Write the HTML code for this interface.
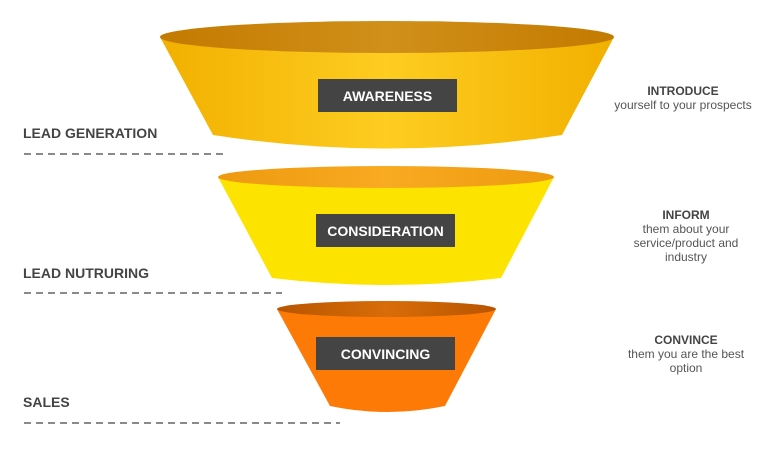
<!DOCTYPE html>
<html><head><meta charset="utf-8"><style>
html,body{margin:0;padding:0;background:#fff;width:780px;height:451px;overflow:hidden}
svg{display:block}
text{font-family:"Liberation Sans",sans-serif}
</style></head><body>
<svg width="780" height="451" viewBox="0 0 780 451" xmlns="http://www.w3.org/2000/svg">
<defs>
<linearGradient id="b1" x1="0" x2="1"><stop offset="0" stop-color="#f2b000"/><stop offset="0.5" stop-color="#fdcd20"/><stop offset="1" stop-color="#f2b000"/></linearGradient>
<linearGradient id="t1" x1="0" x2="1"><stop offset="0" stop-color="#c47a00"/><stop offset="0.5" stop-color="#d0901a"/><stop offset="1" stop-color="#c47a00"/></linearGradient>
<linearGradient id="t2" x1="0" x2="1"><stop offset="0" stop-color="#ee9a10"/><stop offset="0.5" stop-color="#f8aa20"/><stop offset="1" stop-color="#ee9a10"/></linearGradient>
<linearGradient id="t3" x1="0" x2="1"><stop offset="0" stop-color="#b85500"/><stop offset="0.5" stop-color="#d86c08"/><stop offset="1" stop-color="#b85500"/></linearGradient>
</defs>
<path d="M160,37 L213,135 Q387,162 562,135 L614,37 Z" fill="url(#b1)"/>
<ellipse cx="387" cy="37" rx="227" ry="16" fill="url(#t1)"/>
<rect x="318" y="79" width="139" height="33" fill="#444"/>
<text x="387.5" y="101" text-anchor="middle" fill="#fff" font-size="14" font-weight="bold">AWARENESS</text>
<path d="M218,177 L272,278 Q386,292 501,278 L554,177 Z" fill="#fde400"/>
<ellipse cx="386" cy="177" rx="168" ry="11" fill="url(#t2)"/>
<rect x="316" y="214" width="139" height="33" fill="#444"/>
<text x="385.5" y="236" text-anchor="middle" fill="#fff" font-size="14" font-weight="bold">CONSIDERATION</text>
<path d="M277,309 L330,406 Q387,418 445,406 L496,309 Z" fill="#fd7a06"/>
<ellipse cx="386.5" cy="309" rx="109.5" ry="8" fill="url(#t3)"/>
<rect x="316" y="337" width="139" height="33" fill="#444"/>
<text x="385.5" y="359" text-anchor="middle" fill="#fff" font-size="14" font-weight="bold">CONVINCING</text>
<g fill="#444" font-size="14" font-weight="bold">
<text x="23" y="138">LEAD GENERATION</text>
<text x="23" y="278">LEAD NUTRURING</text>
<text x="23" y="407">SALES</text>
</g>
<g stroke="#444" stroke-width="1.3" stroke-dasharray="7,5">
<line x1="24" y1="154" x2="224" y2="154"/>
<line x1="24" y1="293" x2="282" y2="293"/>
<line x1="24" y1="423" x2="340" y2="423"/>
</g>
<g text-anchor="middle" fill="#444" font-size="12">
<text x="683" y="95" font-weight="bold">INTRODUCE</text>
<text x="683" y="109" fill="#555">yourself to your prospects</text>
<text x="686" y="219" font-weight="bold">INFORM</text>
<text x="686" y="233" fill="#555">them about your</text>
<text x="686" y="247" fill="#555">service/product and</text>
<text x="686" y="261" fill="#555">industry</text>
<text x="686" y="344" font-weight="bold">CONVINCE</text>
<text x="686" y="358" fill="#555">them you are the best</text>
<text x="686" y="372" fill="#555">option</text>
</g>
</svg>
</body></html>
